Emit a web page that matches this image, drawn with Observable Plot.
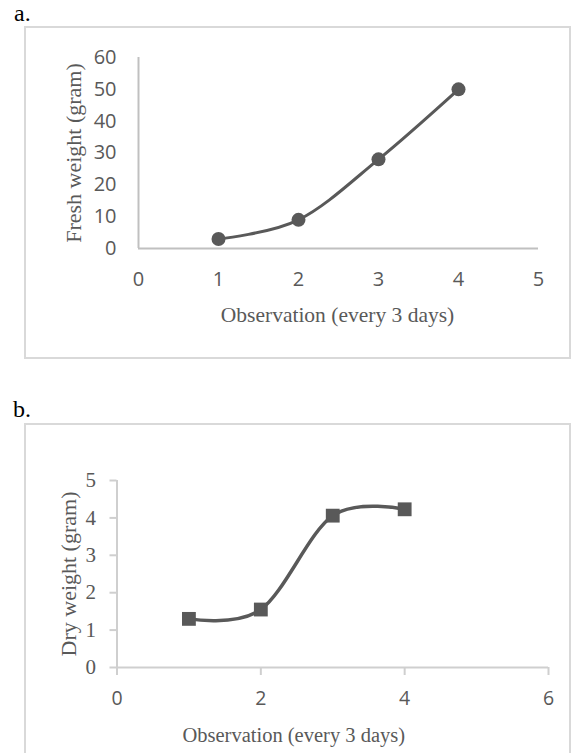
<!DOCTYPE html>
<html>
<head>
<meta charset="utf-8">
<script src="https://cdn.jsdelivr.net/npm/d3@7"></script>
<script src="https://cdn.jsdelivr.net/npm/@observablehq/plot@0.6"></script>
<style>
  body { margin: 0; background: #fff; }
  #page { position: relative; width: 571px; height: 753px; overflow: hidden; background: #fff; }
  .frame { position: absolute; border: 2px solid #d9d9d9; box-sizing: border-box; }
  .lab { position: absolute; font-family: "Liberation Serif", "Times New Roman", serif; font-size: 24px; line-height: 24px; color: #000; }
  #page svg { position: absolute; left: 0; }
</style>
</head>
<body>
<div id="page">
  <div class="frame" style="left:24px;top:26px;width:547px;height:333px"></div>
  <div class="frame" style="left:24px;top:423px;width:547px;height:340px"></div>
  <div class="lab" style="left:14px;top:1px">a.</div>
  <div class="lab" style="left:13px;top:397px">b.</div>
</div>
<script>
// ---- Data ----
const observationA = [1, 2, 3, 4];
const freshWeight = [3, 9, 28, 50];
const observationB = [1, 2, 3, 4];
const dryWeight = [1.3, 1.55, 4.06, 4.23];

const xTicksA = [0, 1, 2, 3, 4, 5];
const yTicksA = [0, 10, 20, 30, 40, 50, 60];
const xTicksB = [0, 2, 4, 6];
const yTicksB = [0, 1, 2, 3, 4, 5];

const xTitle = "Observation (every 3 days)";
const yTitleA = "Fresh weight (gram)";
const yTitleB = "Dry weight (gram)";

const dataA = observationA.map((x, i) => ({x, y: freshWeight[i]}));
const dataB = observationB.map((x, i) => ({x, y: dryWeight[i]}));

const GRAY = "#595959";
const SANS = "'Open Sans', 'Noto Sans', sans-serif";
const SERIF = "'Liberation Serif', 'Times New Roman', serif";
const fmt = d => String(d);

const page = document.getElementById("page");

// ---- Chart a ----
const chartA = Plot.plot({
  width: 571, height: 370,
  marginLeft: 138, marginRight: 33, marginTop: 57, marginBottom: 122,
  x: {domain: [0, 5]},
  y: {domain: [0, 60]},
  style: {background: "transparent", overflow: "visible"},
  marks: [
    Plot.ruleY([0], {stroke: "#c0c0c0", strokeWidth: 2}),
    Plot.ruleX([0], {stroke: "#c0c0c0", strokeWidth: 2}),
    Plot.axisX({ticks: xTicksA, tickFormat: fmt, tickSize: 0, tickPadding: 23, label: null,
      fontSize: 20, fontFamily: SANS, fill: GRAY}),
    Plot.axisY({ticks: yTicksA, tickFormat: fmt, tickSize: 0, tickPadding: 22, label: null,
      fontSize: 20, fontFamily: SANS, fill: GRAY}),
    Plot.text([yTitleA], {text: d => d, frameAnchor: "left", dx: -65, rotate: -90,
      textAnchor: "middle", lineAnchor: "middle", fontSize: 22, fontFamily: SERIF, fill: GRAY}),
    Plot.text([xTitle], {text: d => d, frameAnchor: "bottom", dx: -1, dy: 67,
      textAnchor: "middle", lineAnchor: "middle", fontSize: 21.5, fontFamily: SERIF, fill: GRAY}),
    Plot.line(dataA, {x: "x", y: "y", curve: "cardinal", stroke: GRAY, strokeWidth: 3}),
    Plot.dot(dataA, {x: "x", y: "y", r: 7, fill: GRAY})
  ]
});
chartA.style.top = "0px";
page.appendChild(chartA);

// ---- Chart b ----
const chartB = Plot.plot({
  width: 571, height: 373,
  marginLeft: 116.5, marginRight: 23, marginTop: 100, marginBottom: 86,
  x: {domain: [0, 6]},
  y: {domain: [0, 5]},
  style: {background: "transparent", overflow: "visible"},
  marks: [
    Plot.ruleY([0], {stroke: "#cfcfcf", strokeWidth: 2}),
    Plot.ruleX([0], {stroke: "#cfcfcf", strokeWidth: 2}),
    Plot.axisX({ticks: xTicksB, tickFormat: fmt, tickSize: 8, tickPadding: 16, label: null,
      stroke: "#cfcfcf", strokeWidth: 2,
      fontSize: 19.5, fontFamily: SANS, fill: GRAY}),
    Plot.axisY({ticks: yTicksB, tickFormat: fmt, tickSize: 7, tickPadding: 14, label: null,
      stroke: "#cfcfcf", strokeWidth: 2,
      fontSize: 21, fontFamily: SERIF, fill: GRAY}),
    Plot.text([yTitleB], {text: d => d, frameAnchor: "left", dx: -48.5, rotate: -90,
      textAnchor: "middle", lineAnchor: "middle", fontSize: 22, fontFamily: SERIF, fill: GRAY}),
    Plot.text([xTitle], {text: d => d, frameAnchor: "bottom", dx: -39, dy: 68,
      textAnchor: "middle", lineAnchor: "middle", fontSize: 20.5, fontFamily: SERIF, fill: GRAY}),
    Plot.line(dataB, {x: "x", y: "y", curve: "cardinal", stroke: GRAY, strokeWidth: 3.5}),
    Plot.dot(dataB, {x: "x", y: "y", r: 7.8, symbol: "square", fill: GRAY})
  ]
});
chartB.style.top = "380px";
page.appendChild(chartB);
</script>
</body>
</html>
